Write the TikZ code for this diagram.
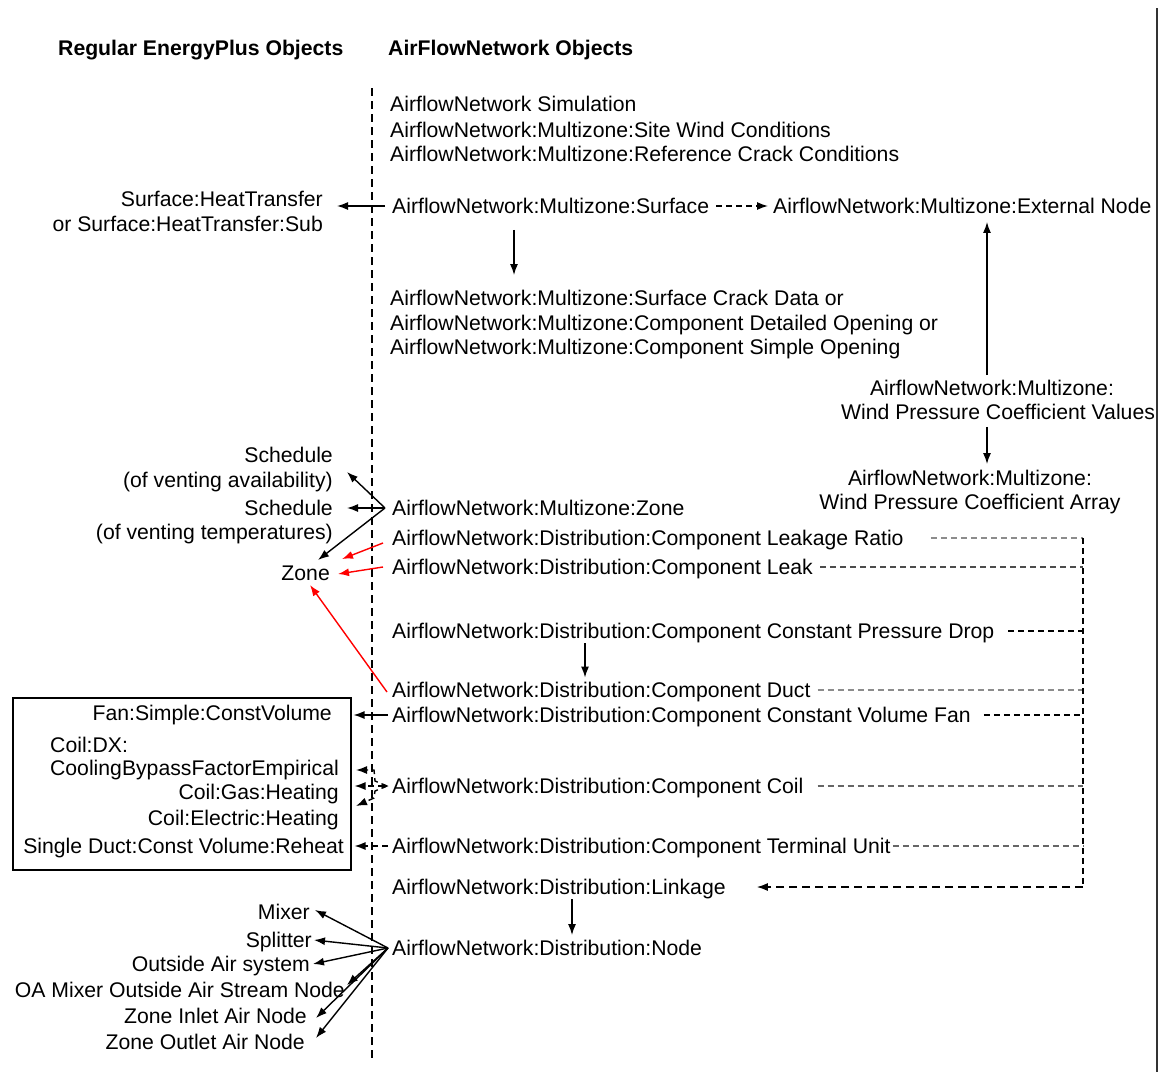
\documentclass[tikz,border=0pt]{standalone}
\usepackage{fontspec}
\setmainfont{Liberation Sans}
\usetikzlibrary{arrows.meta}
\begin{document}
\begin{tikzpicture}[x=1pt,y=-1pt,
  t/.style={inner sep=0pt, text height=20pt, text depth=4.5pt, font=\fontsize{21.2}{25}\selectfont},
  hd/.style={t, font=\fontsize{21.2}{25}\selectfont\bfseries},
  arr/.style={line width=1.4pt, -{Latex[length=11pt,width=8pt]}},
  darr/.style={arr, dash pattern=on 6pt off 4pt},
  rarr/.style={arr, draw=red},
  dl/.style={line width=1.3pt, dash pattern=on 6pt off 4pt},
  vdash/.style={line width=1.4pt, dash pattern=on 8pt off 5pt}]
\fill[white] (0,0) rectangle (1160,1072);
\useasboundingbox (0,0) rectangle (1160,1072);

% headers
\node[hd, anchor=west] (hdrL) at (58,48) {Regular EnergyPlus Objects};
\node[hd, anchor=west] (hdrR) at (388,48) {AirFlowNetwork Objects};

% separators
\draw[vdash] (372,88) -- (372,1060);
\draw[line width=2pt, black!80] (1157,8) -- (1157,1072);

% top block
\node[t, anchor=west] (sim)  at (390,104) {AirflowNetwork Simulation};
\node[t, anchor=west] (site) at (390,130) {AirflowNetwork:Multizone:Site Wind Conditions};
\node[t, anchor=west] (refc) at (390,154) {AirflowNetwork:Multizone:Reference Crack Conditions};

\node[t, anchor=west] (surf) at (392,206) {AirflowNetwork:Multizone:Surface};
\node[t, anchor=west] (ext)  at (773,206) {AirflowNetwork:Multizone:External Node};
\node[t, anchor=east] (sht1) at (323,199) {Surface:HeatTransfer};
\node[t, anchor=east] (sht2) at (323,224) {or Surface:HeatTransfer:Sub};

\node[t, anchor=west] (crk1) at (390,298) {AirflowNetwork:Multizone:Surface Crack Data or};
\node[t, anchor=west] (crk2) at (390,323) {AirflowNetwork:Multizone:Component Detailed Opening or};
\node[t, anchor=west] (crk3) at (390,347) {AirflowNetwork:Multizone:Component Simple Opening};

\node[t] (wpv1) at (992,388) {AirflowNetwork:Multizone:};
\node[t] (wpv2) at (998,412) {Wind Pressure Coefficient Values};
\node[t] (wpa1) at (970,478) {AirflowNetwork:Multizone:};
\node[t] (wpa2) at (970,502) {Wind Pressure Coefficient Array};

% zone block
\node[t, anchor=west] (zone) at (392,508) {AirflowNetwork:Multizone:Zone};
\node[t, anchor=east] (sch1a) at (333,455) {Schedule};
\node[t, anchor=east] (sch1b) at (333,480) {(of venting availability)};
\node[t, anchor=east] (sch2a) at (333,508) {Schedule};
\node[t, anchor=east] (sch2b) at (333,532) {(of venting temperatures)};
\node[t, anchor=east] (zoneL) at (330,573) {Zone};

% distribution
\node[t, anchor=west] (lr)    at (392,538) {AirflowNetwork:Distribution:Component Leakage Ratio};
\node[t, anchor=west] (leak)  at (392,567) {AirflowNetwork:Distribution:Component Leak};
\node[t, anchor=west] (cpd)   at (392,631) {AirflowNetwork:Distribution:Component Constant Pressure Drop};
\node[t, anchor=west] (duct)  at (392,690) {AirflowNetwork:Distribution:Component Duct};
\node[t, anchor=west] (fan)   at (392,715) {AirflowNetwork:Distribution:Component Constant Volume Fan};
\node[t, anchor=west] (coil)  at (392,786) {AirflowNetwork:Distribution:Component Coil};
\node[t, anchor=west] (term)  at (392,846) {AirflowNetwork:Distribution:Component Terminal Unit};
\node[t, anchor=west] (link)  at (392,887) {AirflowNetwork:Distribution:Linkage};
\node[t, anchor=west] (dnode) at (392,948) {AirflowNetwork:Distribution:Node};

% box
\node[draw, line width=1.5pt, minimum width=338pt, minimum height=172pt, inner sep=0pt, anchor=north west] (box) at (12,697) {};
\node[t, anchor=east] (fanL) at (332,713) {Fan:Simple:ConstVolume};
\node[t, anchor=west] (dx1)  at (50,745)  {Coil:DX:};
\node[t, anchor=east] (dx2)  at (339,768) {CoolingBypassFactorEmpirical};
\node[t, anchor=east] (gas)  at (339,792) {Coil:Gas:Heating};
\node[t, anchor=east] (elec) at (339,818) {Coil:Electric:Heating};
\node[t, anchor=east] (sdr)  at (344,846) {Single Duct:Const Volume:Reheat};

% node targets
\node[t, anchor=east] (mix)  at (310,912)  {Mixer};
\node[t, anchor=east] (spl)  at (312,940)  {Splitter};
\node[t, anchor=east] (oas)  at (310,964)  {Outside Air system};
\node[t, anchor=east] (oam)  at (345,990)  {OA Mixer Outside Air Stream Node};
\node[t, anchor=east] (zin)  at (307,1016) {Zone Inlet Air Node};
\node[t, anchor=east] (zout) at (305,1042) {Zone Outlet Air Node};

\coordinate (bus) at (1083,887);

% ---- connectors ----
\draw[arr, shorten <=7pt, shorten >=14pt] (surf.west) -- (sht1.east |- surf.west);
\draw[darr, shorten <=7pt, shorten >=5pt] (surf.east) -- (ext.west);
\draw[arr, shorten <=11.5pt, shorten >=10.5pt] (514,0 |- surf.south) -- (514,0 |- crk1.north);
\draw[arr, shorten <=0.5pt, shorten >=3.5pt] (987,0 |- wpv1.north) -- (987,0 |- ext.south);
\draw[arr, shorten <=2.5pt, shorten >=1.5pt] (987,0 |- wpv2.south) -- (987,0 |- wpa1.north);

\draw[arr] ([xshift=-7pt]zone.west) -- ([xshift=14pt,yshift=8pt]sch1b.east);
\draw[arr] ([xshift=-7pt]zone.west) -- ([xshift=14pt]sch2a.east);
\draw[arr] ([xshift=-7pt]zone.west) -- ([xshift=-12pt,yshift=13pt]zoneL.east);

\draw[rarr] ([xshift=-9pt,yshift=-5pt]lr.west) -- ([xshift=12pt,yshift=14pt]zoneL.east);
\draw[rarr] ([xshift=-9pt]leak.west) -- ([xshift=8pt,yshift=-1pt]zoneL.east);
\draw[rarr] ([xshift=-5pt,yshift=-2pt]duct.west) -- ([xshift=-20pt,yshift=-12pt]zoneL.east);

\draw[arr] (585,0 |- cpd.south) -- (585,0 |- duct.north);
\draw[arr, shorten >=0.5pt] (572,0 |- link.south) -- (572,0 |- dnode.north);

\draw[arr, shorten <=4pt, shorten >=2pt] (fan.west) -- (box.east |- fan.west);
\draw[dash pattern=on 6pt off 4pt, line width=1.4pt, {Latex[length=6pt,width=5pt]}-{Latex[length=11pt,width=8pt]}, shorten <=3pt, shorten >=3pt] (coil.west) -- (box.east |- coil.west);
\draw[darr] ([xshift=-5pt]coil.west) -- (375,781) -- (374,770) -- ([xshift=17pt,yshift=-2pt]dx2.east);
\draw[darr] ([xshift=-5pt]coil.west) -- (375,791) -- (374,798) -- ([xshift=17pt,yshift=12pt]elec.east);
\draw[darr, shorten <=4pt, shorten >=3pt] (term.west) -- (box.east |- term.west);

\draw[dl, draw=black!45, shorten <=27pt] (lr.east) -- (bus |- lr.east);
\draw[dl, draw=black!70, shorten <=7pt] (leak.east) -- (bus |- leak.east);
\draw[dl, shorten <=14pt] (cpd.east) -- (bus |- cpd.east);
\draw[dl, draw=black!45, shorten <=7pt] (duct.east) -- (bus |- duct.east);
\draw[dl, shorten <=13pt] (fan.east) -- (bus |- fan.east);
\draw[dl, draw=black!60, shorten <=14pt] (coil.east) -- (bus |- coil.east);
\draw[dl, draw=black!60, shorten <=2pt] (term.east) -- (bus |- term.east);
\draw[dl] (bus |- lr.east) -- (bus);
\draw[darr, dash pattern=on 8pt off 5pt, shorten >=31pt] (bus) -- (link.east);

\draw[arr] ([xshift=-4pt]dnode.west) -- ([xshift=5pt,yshift=2pt]mix.east);
\draw[arr] ([xshift=-4pt]dnode.west) -- ([xshift=2pt]spl.east);
\draw[arr] ([xshift=-4pt]dnode.west) -- ([xshift=3pt]oas.east);
\draw[arr] ([xshift=-4pt]dnode.west) -- ([xshift=2pt,yshift=5pt]oam.east);
\draw[arr] ([xshift=-4pt]dnode.west) -- ([xshift=9pt,yshift=-2pt]zin.east);
\draw[arr] ([xshift=-4pt]dnode.west) -- ([xshift=11pt,yshift=4pt]zout.east);
\end{tikzpicture}
\end{document}
